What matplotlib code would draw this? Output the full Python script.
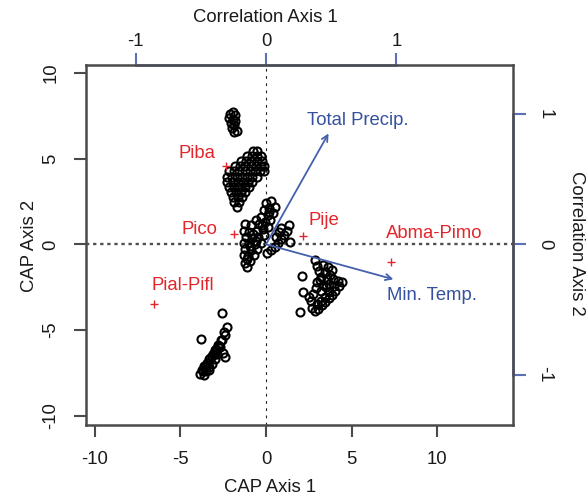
import matplotlib
matplotlib.use("Agg")
import matplotlib.pyplot as plt

plt.rcParams['font.family'] = ['Liberation Sans', 'DejaVu Sans']

# Site scores on the first two CAP axes
site_x = [
    # upper group
    -2.10, -1.95, -1.80, -2.15, -1.95, -1.80, -2.05, -1.85, -2.00, -1.85, -1.70,
    # Piba group
    -0.75, -0.50,
    -1.10, -0.80, -0.50, -0.30,
    -1.45, -1.15, -0.85, -0.55, -0.25,
    -1.80, -1.50, -1.20, -0.90, -0.60, -0.30, -0.10,
    -2.15, -1.85, -1.55, -1.25, -0.95, -0.65, -0.35, -0.10,
    -2.30, -2.00, -1.70, -1.40, -1.10, -0.80, -0.50,
    -2.25, -1.95, -1.65, -1.35, -1.05, -0.80,
    -2.15, -1.85, -1.55, -1.25, -1.00,
    -2.05, -1.75, -1.45, -1.20,
    -1.95, -1.65, -1.40,
    -1.85, -1.60,
    -1.70,
    # central group
    0.30, 0.00, 0.55, 0.20, -0.10, 0.40, 0.10, -0.30, -0.60, 0.25, -0.05, -0.40,
    -0.90, -1.20, 0.10, -0.20, -0.55, -1.00, -1.30, -0.10, -0.45, -0.80, -1.15,
    -0.30, -0.65, -1.00, -1.30, -0.50, -0.85, -1.20, -0.70, -1.05, -1.30, -0.95,
    -1.20, -1.10, 0.15, -0.25, -0.75, -0.95, -1.10, -0.60,
    1.35, 1.20, 1.05, 0.90, 1.40, 0.70, 0.50, 0.30, 0.05, 0.90, 0.75, 0.60,
    # lower right group
    2.86, 2.08, 2.18, 1.98,
    3.00, 3.30, 3.60, 3.85, 3.10, 3.45, 3.75, 3.90, 3.20, 3.55, 3.00, 3.35, 3.70,
    2.90, 3.20, 2.75, 3.15, 3.50,
    4.45, 4.25, 4.05, 3.85, 3.65, 3.45, 3.25, 3.05, 2.85,
    4.20, 3.95, 3.70, 3.45, 3.20, 2.95, 2.70, 2.60, 2.50,
    # lower left group
    -2.59, -3.81, -2.39,
    -2.30, -2.45, -2.60, -2.75, -2.90, -3.00, -2.70, -3.15, -2.85, -3.30, -3.00,
    -3.45, -3.15, -3.60, -3.35, -3.75, -3.50, -3.85, -3.60, -3.30, -2.50,
    -2.40, -2.55, -2.80, -2.95, -3.10, -3.25, -3.40, -3.55, -3.70,
]
site_y = [
    7.60, 7.70, 7.55, 7.35, 7.30, 7.20, 7.05, 6.95, 6.75, 6.55, 6.60,
    5.45, 5.45,
    5.15, 5.15, 5.15, 5.15,
    4.85, 4.85, 4.85, 4.85, 4.85,
    4.55, 4.55, 4.55, 4.55, 4.55, 4.55, 4.55,
    4.25, 4.25, 4.25, 4.25, 4.25, 4.25, 4.25, 4.25,
    3.95, 3.95, 3.95, 3.95, 3.95, 3.95, 3.95,
    3.65, 3.65, 3.65, 3.65, 3.65, 3.65,
    3.35, 3.35, 3.35, 3.35, 3.35,
    3.05, 3.05, 3.05, 3.05,
    2.75, 2.75, 2.75,
    2.45, 2.45,
    2.20,
    2.50, 2.40, 2.20, 2.10, 2.00, 1.80, 1.70, 1.60, 1.40, 1.40, 1.30, 1.20,
    1.10, 1.20, 1.00, 0.90, 0.80, 0.70, 0.80, 0.55, 0.45, 0.35, 0.40,
    0.10, 0.00, 0.05, 0.10, -0.30, -0.35, -0.30, -0.65, -0.70, -0.60, -1.00,
    -1.10, -1.30, 1.90, 1.10, 0.60, -0.10, -0.85, 0.20,
    1.10, 0.80, 0.55, 0.30, 0.15, 0.10, -0.15, -0.35, -0.50, 0.95, 0.70, 0.45,
    -0.92, -1.85, -2.76, -3.93,
    -1.25, -1.20, -1.30, -1.50, -1.55, -1.60, -1.80, -2.05, -1.90, -2.00, -2.20,
    -2.35, -2.30, -2.55, -2.70, -2.90, -2.10, -2.50,
    -2.20, -2.45, -2.70, -2.95, -3.15, -3.35, -3.55, -3.75, -3.90,
    -2.15, -2.45, -2.75, -3.05, -3.30, -3.50, -3.70, -3.30, -3.05,
    -4.02, -5.54, -6.55,
    -4.80, -5.10, -5.60, -5.90, -6.10, -6.30, -6.00, -6.50, -6.40, -6.70, -6.70,
    -6.90, -6.95, -7.10, -7.15, -7.30, -7.40, -7.55, -7.60, -7.30, -6.35,
    -5.30, -5.55, -5.85, -6.15, -6.40, -6.65, -6.90, -7.10, -7.40,
]

# Species group centroids
species = ['Piba', 'Pico', 'Pije', 'Abma-Pimo', 'Pial-Pifl']
species_x = [-2.35, -1.87, 2.14, 7.29, -6.53]
species_y = [4.56, 0.60, 0.48, -1.01, -3.48]

# Environmental variable correlations with the CAP axes
env_vars = ['Total Precip.', 'Min. Temp.']
env_r1 = [0.48, 0.978]
env_r2 = [0.85, -0.268]

# Axis ticks
corr_ticks = [-1, 0, 1]
cap_ticks = [-10, -5, 0, 5, 10]

arrow_scale = 7.6

RED = '#e3262b'
BLUE_TXT = '#34509f'
BLUE_ARW = '#4560ad'
BLUE_AX = '#5b70b5'
BOX = '#4a4a4a'

fig = plt.figure(figsize=(5.87, 4.98), dpi=100)
ax = fig.add_axes([86 / 587, 1 - 425 / 498, (513 - 86) / 587, (425 - 65) / 498])
ax.set_xlim(-10.5, 14.41)
ax.set_ylim(-10.53, 10.45)

for s in ax.spines.values():
    s.set_color(BOX)
    s.set_linewidth(1.8)

ax.axhline(0, color='#505050', lw=1.7, ls=(0, (1.4, 1.6)), zorder=1)
ax.axvline(0, color='#222222', lw=0.8, ls=(0, (2.5, 4)), zorder=1)

ax.plot(site_x, site_y, 'o', ls='none', mfc='none', mec='black',
        ms=5.8, mew=1.5, zorder=3)

ax.plot(species_x, species_y, '+', ls='none', color=RED, ms=6, mew=1.0, zorder=4)
label_offsets = [(-21, 9), (-25, 3.2), (15, 11.5), (31, 20), (21, 13)]
for name, x, y, off in zip(species, species_x, species_y, label_offsets):
    ax.annotate(name, (x, y), xytext=off, textcoords='offset points',
                ha='center', va='center', color=RED, fontsize=13.3, zorder=5)

env_label_offsets = [(-15.5, 9.5), (-4.8, -11.8)]
for name, r1, r2, off in zip(env_vars, env_r1, env_r2, env_label_offsets):
    tip = (r1 * arrow_scale, r2 * arrow_scale)
    ax.annotate('', xy=tip, xytext=(0, 0),
                arrowprops=dict(arrowstyle='->', color=BLUE_ARW, lw=1.3,
                                mutation_scale=11, shrinkA=0, shrinkB=0),
                zorder=4)
    ax.annotate(name, tip, xytext=off, textcoords='offset points',
                ha='left', va='center', color=BLUE_TXT, fontsize=13.3, zorder=5)

ax.set_xticks(cap_ticks)
ax.set_yticks(cap_ticks)
ax.set_xticklabels([str(t) for t in cap_ticks])
ax.set_yticklabels([str(t) for t in cap_ticks])
ax.tick_params(axis='both', direction='out', length=8.5, width=1.5,
               color=BOX, labelsize=13.3, labelcolor='#1a1a1a')
ax.tick_params(axis='x', pad=10.5)
ax.tick_params(axis='y', pad=10.5, labelrotation=90)
for lbl in ax.get_yticklabels():
    lbl.set_va('center')

fwd = (lambda v: v / arrow_scale, lambda v: v * arrow_scale)

top = ax.secondary_xaxis('top', functions=fwd)
top.set_xticks(corr_ticks)
top.set_xticklabels([str(t) for t in corr_ticks])
top.tick_params(direction='out', length=9, width=1.5, color=BLUE_AX,
                labelsize=13.3, labelcolor='#1a1a1a', pad=2)
top.spines['top'].set_bounds(-1, 1)
top.spines['top'].set_color(BLUE_AX)
top.spines['top'].set_linewidth(1.8)

right = ax.secondary_yaxis('right', functions=fwd)
right.set_yticks(corr_ticks)
right.set_yticklabels([str(t) for t in corr_ticks])
right.tick_params(direction='out', length=9, width=1.5, color=BLUE_AX,
                  labelsize=13.3, labelcolor='#1a1a1a', pad=8, labelrotation=-90)
for lbl in right.get_yticklabels():
    lbl.set_va('center')
right.spines['right'].set_bounds(-1, 1)
right.spines['right'].set_color(BLUE_AX)
right.spines['right'].set_linewidth(1.8)

title_kw = dict(fontsize=13.3, color='#1a1a1a', ha='center', va='center')
fig.text(265 / 587, 1 - 17 / 498, 'Correlation Axis 1', **title_kw)
fig.text(270 / 587, 1 - 487 / 498, 'CAP Axis 1', **title_kw)
fig.text(30 / 587, 1 - 246 / 498, 'CAP Axis 2', rotation=90, **title_kw)
fig.text(577 / 587, 1 - 243 / 498, 'Correlation Axis 2', rotation=-90, **title_kw)

fig.savefig('out.png', dpi=100)
